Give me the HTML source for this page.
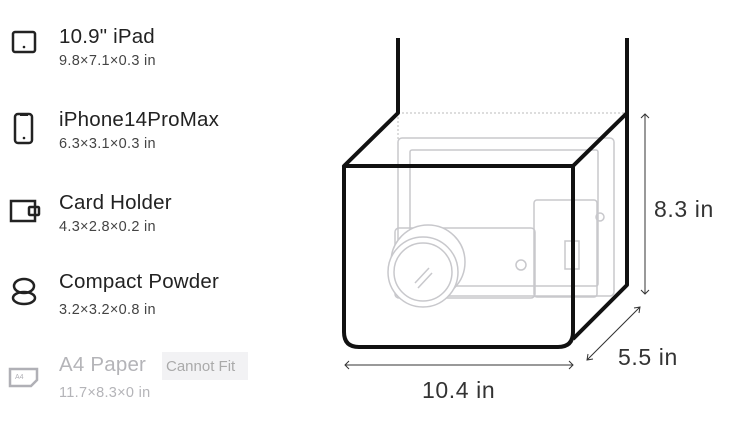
<!DOCTYPE html>
<html><head><meta charset="utf-8"><style>
body{margin:0;width:750px;height:426px;background:#fff;position:relative;overflow:hidden;font-family:"Liberation Sans",sans-serif}
.t{position:absolute;left:59px;font-size:20.5px;color:#222;white-space:nowrap;letter-spacing:0.2px}
.s{position:absolute;left:59px;font-size:14.5px;color:#444;white-space:nowrap;letter-spacing:0.3px}
.g{color:#b4b4b8}
.lab{position:absolute;font-size:23px;color:#333;white-space:nowrap;letter-spacing:0.6px}
</style></head><body>
<svg width="750" height="426" style="position:absolute;left:0;top:0">
<g fill="none" stroke="#222" stroke-width="2.5">
<rect x="13" y="32" width="22" height="20" rx="2"/>
<rect x="15" y="114" width="17" height="29" rx="3"/>
<path d="M11 201 h24 v20 h-24 z"/>
<rect x="29" y="207" width="10" height="8" rx="1"/>
<ellipse cx="24" cy="286" rx="10" ry="7"/>
<ellipse cx="24" cy="298" rx="11" ry="6"/>
</g>
<circle cx="24" cy="47" r="1.3" fill="#222"/>
<circle cx="24" cy="138" r="1.3" fill="#222"/>
<rect x="20" y="114" width="8" height="2" fill="#222"/>
<path d="M10 369 h27 v11 l-6 6 h-21 z" fill="none" stroke="#b0b0b6" stroke-width="2.5"/>
<text x="15" y="379" font-size="7" fill="#b0b0b6" font-family="Liberation Sans">A4</text>
<g fill="none" stroke="#c8c8cc" stroke-width="1.5">
<rect x="398" y="138" width="216" height="158" rx="4"/>
<rect x="410" y="150" width="188" height="136" rx="2"/>
<rect x="534" y="200" width="63" height="97" rx="3"/>
<rect x="565" y="241" width="14" height="28"/>
<circle cx="600" cy="217" r="4"/>
<rect x="395" y="228" width="140" height="70" rx="4"/>
<circle cx="521" cy="265" r="5"/>
<circle cx="428" cy="262" r="37" fill="#fff"/>
<circle cx="423" cy="272" r="35" fill="#fff"/>
<circle cx="423" cy="272" r="29"/>
<path d="M415 283 l14 -15 M418 288 l14 -15"/>
</g>
<path d="M398 113 H627 M398 113 V140" stroke="#bbb" stroke-width="1" stroke-dasharray="2 2" fill="none"/>
<g fill="none" stroke="#111" stroke-width="4" stroke-linejoin="round">
<path d="M398 38 V113 L344 166 H573 L627 113 V38"/>
<path d="M627 113 V285 L573 339"/>
<path d="M344 166 V332 Q344 347 359 347 H558 Q573 347 573 332 V166"/>
</g>
<g stroke="#333" stroke-width="1" fill="none">
<path d="M645 114 V294 M641 118 L645 114 L649 118 M641 290 L645 294 L649 290"/>
<path d="M640 307 L587 360 M634 308 L640 307 L639 313 M588 354 L587 360 L593 359"/>
<path d="M345 365 H573 M349 361 L345 365 L349 369 M569 361 L573 365 L569 369"/>
</g>
<rect x="162" y="352" width="86" height="28" fill="#f2f2f4"/>
</svg>
<div class="t" style="top:25px">10.9" iPad</div><div class="s" style="top:53px">9.8×7.1×0.3 in</div>
<div class="t" style="top:108px">iPhone14ProMax</div><div class="s" style="top:136px">6.3×3.1×0.3 in</div>
<div class="t" style="top:191px">Card Holder</div><div class="s" style="top:219px">4.3×2.8×0.2 in</div>
<div class="t" style="top:270px">Compact Powder</div><div class="s" style="top:302px">3.2×3.2×0.8 in</div>
<div class="t g" style="top:353px">A4 Paper</div><div class="s g" style="top:385px">11.7×8.3×0 in</div>
<div style="position:absolute;left:166px;top:358px;font-size:15px;color:#aaa">Cannot Fit</div>
<div class="lab" style="left:654px;top:196px">8.3 in</div>
<div class="lab" style="left:618px;top:344px">5.5 in</div>
<div class="lab" style="left:422px;top:377px">10.4 in</div>
</body></html>
